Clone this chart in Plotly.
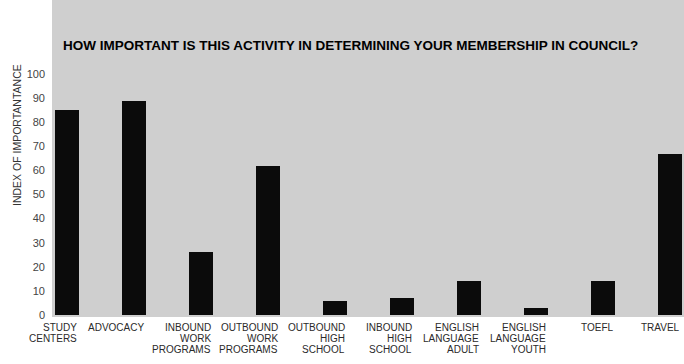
import plotly.graph_objects as go

# Survey results: importance of each activity to council membership
categories = [
    "STUDY<br>CENTERS",
    "ADVOCACY",
    "INBOUND<br>WORK<br>PROGRAMS",
    "OUTBOUND<br>WORK<br>PROGRAMS",
    "OUTBOUND<br>HIGH<br>SCHOOL",
    "INBOUND<br>HIGH<br>SCHOOL",
    "ENGLISH<br>LANGUAGE<br>ADULT",
    "ENGLISH<br>LANGUAGE<br>YOUTH",
    "TOEFL",
    "TRAVEL",
]
importance = [85, 89, 26, 62, 6, 7, 14, 3, 14, 67]
y_ticks = [0, 10, 20, 30, 40, 50, 60, 70, 80, 90, 100]

title_text = "HOW IMPORTANT IS THIS ACTIVITY IN DETERMINING YOUR MEMBERSHIP IN COUNCIL?"
y_title = "INDEX OF IMPORTANTANCE"

W, H = 684, 364
L, R, T, B = 52, 0, 0, 47
plot_h = H - T - B
plot_w = W - L - R

x_idx = list(range(len(categories)))
bar_w = 0.36  # fraction of a category slot

fig = go.Figure()
fig.add_trace(go.Bar(
    x=x_idx,
    y=importance,
    width=bar_w,
    marker=dict(color="#0b0b0b", line=dict(width=0)),
    hoverinfo="y",
))

# Category labels: one annotation per line, right-aligned with the bar's right edge
line_gap = 11
first_line = 10
annotations = []
for i, cat in enumerate(categories):
    for j, line in enumerate(cat.split("<br>")):
        ypix = first_line + j * line_gap
        annotations.append(dict(
            x=i + bar_w / 2, xref="x",
            y=-ypix / plot_h, yref="paper",
            text=line, showarrow=False,
            xanchor="right", yanchor="middle",
            font=dict(family="Liberation Sans, Arial, sans-serif", size=10, color="#2a2a2a"),
        ))

# Chart heading inside the shaded area
annotations.append(dict(
    x=(61 - L) / plot_w, xref="paper",
    y=1 - 46 / plot_h, yref="paper",
    text="<b>" + title_text + "</b>", showarrow=False,
    xanchor="left", yanchor="middle",
    font=dict(family="Liberation Sans, Arial, sans-serif", size=13.5, color="#000000"),
))

# Rotated y-axis caption
annotations.append(dict(
    x=(17 - L) / plot_w, xref="paper",
    y=1 - 135 / plot_h, yref="paper",
    text=y_title, showarrow=False, textangle=-90,
    xanchor="center", yanchor="middle",
    font=dict(family="Liberation Sans, Arial, sans-serif", size=10.5, color="#333333"),
))

# Vertical scale: 0 sits near the bottom of the shaded area, 2.41 px per unit
px_per_unit = 2.41
zero_pix = 315
y_top = zero_pix / px_per_unit
y_bottom = (zero_pix - plot_h) / px_per_unit

fig.update_layout(
    width=W, height=H,
    margin=dict(l=L, r=R, t=T, b=B, pad=0),
    paper_bgcolor="#ffffff",
    plot_bgcolor="#cfcfcf",
    showlegend=False,
    bargap=0,
    annotations=annotations,
    xaxis=dict(
        range=[(L - 67) / 67, (W - 67) / 67],
        showticklabels=False, showgrid=False, zeroline=False,
        showline=False, ticks="", fixedrange=True,
    ),
    yaxis=dict(
        range=[y_bottom, y_top],
        tickvals=y_ticks,
        showgrid=False, zeroline=False, showline=False, ticks="",
        ticklabelstandoff=6,
        tickfont=dict(family="Liberation Sans, Arial, sans-serif", size=11, color="#444444"),
        fixedrange=True,
    ),
)

fig.write_html("out.html", config={"displayModeBar": False})
